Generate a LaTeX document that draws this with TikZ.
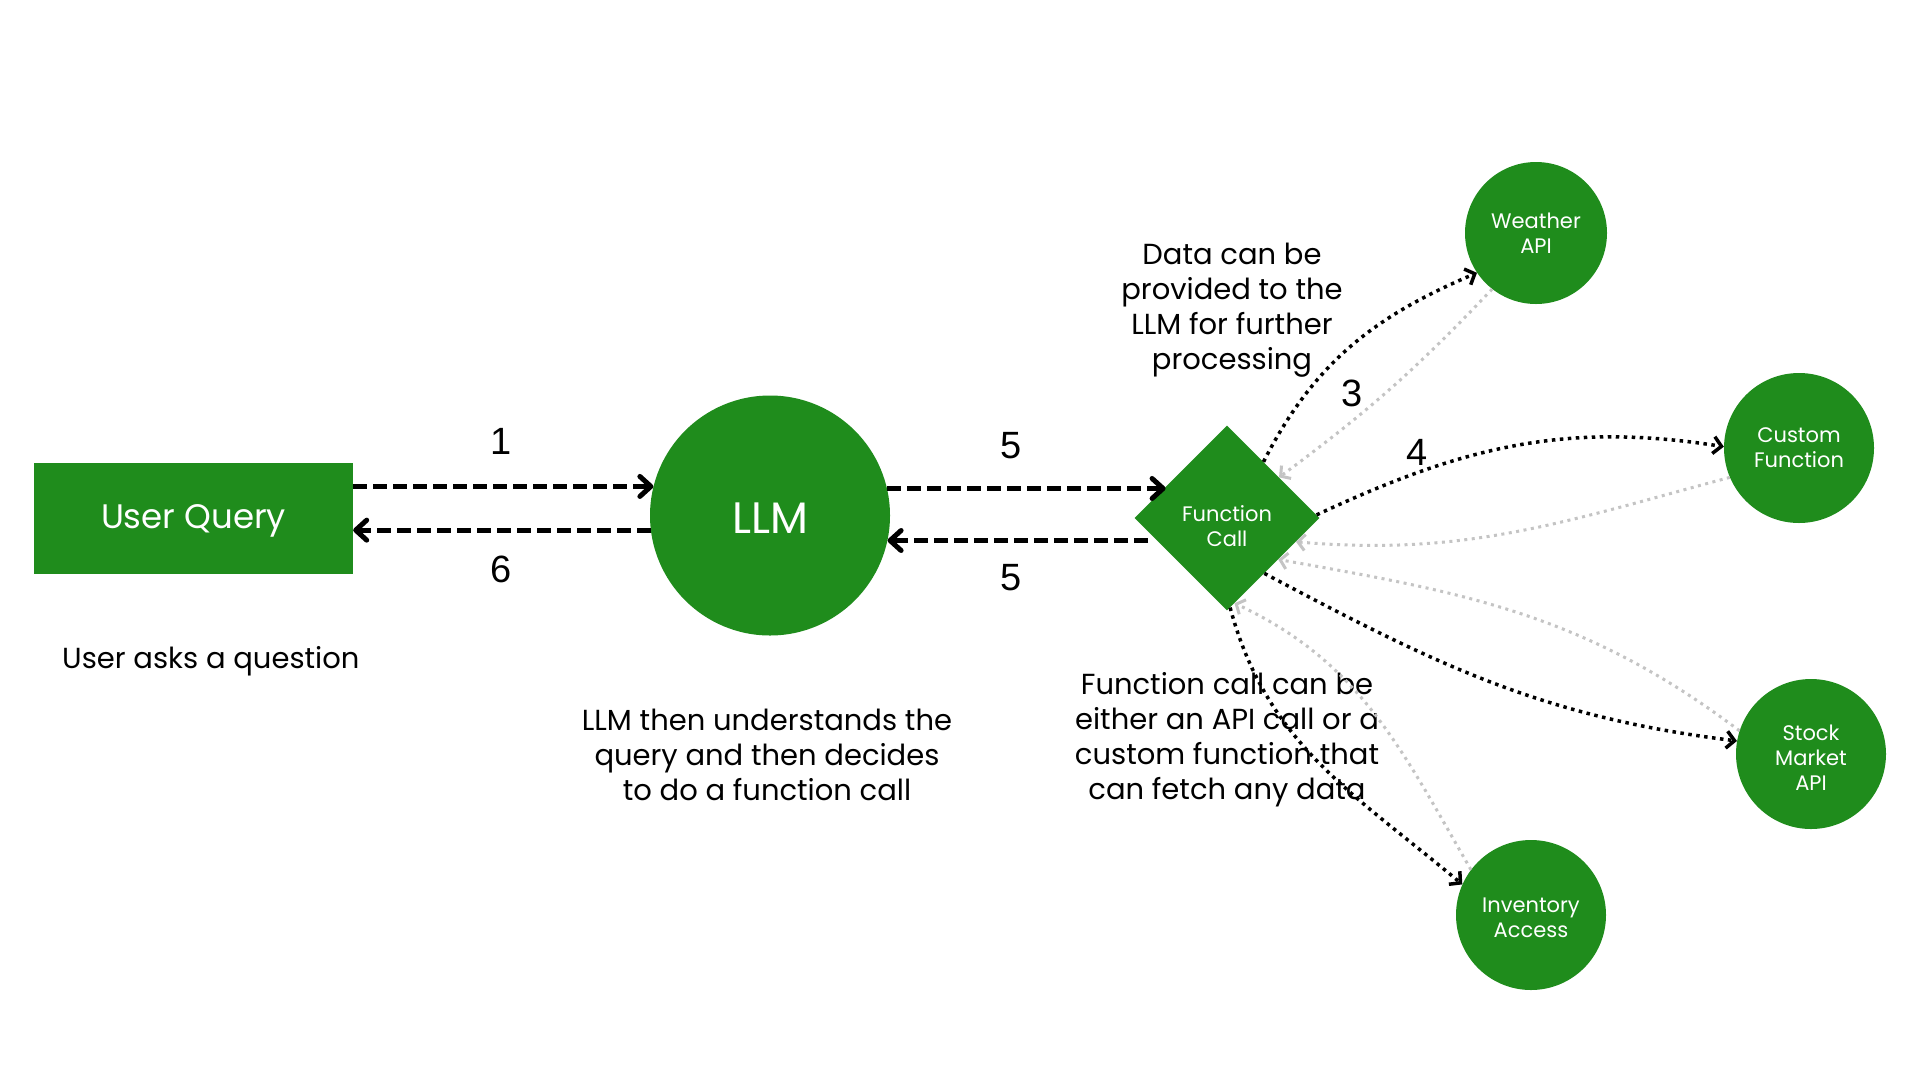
\documentclass[tikz,border=0pt]{standalone}
\usepackage{fontspec}
\setmainfont{Poppins}
\newfontfamily\digitfont{Liberation Sans}
\usetikzlibrary{arrows.meta,shapes.geometric}
\definecolor{fgreen}{RGB}{31,140,28}
\definecolor{lgrey}{RGB}{196,196,196}
\begin{document}
\begin{tikzpicture}[x=1pt,y=-1pt,
  every node/.style={inner sep=0pt},
  gcirc/.style={circle, fill=fgreen, text=white, minimum size=#1, align=center, font=\fontsize{21}{25}\selectfont},
  bigdash/.style={line width=5pt, dash pattern=on 14pt off 6pt, -{Straight Barb[length=11pt,width=20pt,line cap=round,line join=round]}},
  blkdot/.style={line width=3.5pt, dash pattern=on 3.5pt off 4.5pt, -{Straight Barb[length=8pt,width=17pt]}},
  grydot/.style={lgrey, line width=3pt, dash pattern=on 3pt off 4.5pt, -{Straight Barb[length=7pt,width=16pt]}},
  note/.style={align=center, font=\fontsize{29}{35}\selectfont},
  num/.style={font=\digitfont\fontsize{38}{40}\selectfont}
]
\useasboundingbox (0,0) rectangle (1920,1080);
\fill[white] (0,0) rectangle (1920,1080);

\node[fill=fgreen, minimum width=319pt, minimum height=111pt] (uq) at (193.5,518.5) {};
\node[text=white, font=\fontsize{34}{40}\selectfont] (uqt) at (193.5,521) {User Query};
\node[circle, fill=fgreen, minimum size=240pt] (llm) at (770,515.5) {};
\node[text=white, font=\fontsize{44}{50}\selectfont] (llmt) at (770,518) {LLM};
\node[diamond, fill=fgreen, minimum width=185pt, minimum height=185pt, aspect=1] (fc) at (1227,518) {};
\node[text=white, align=center, font=\fontsize{21}{25}\selectfont] (fct) at (1227,526) {Function\\Call};

\node[gcirc=142pt] (w) at (1536,233) {Weather\\API};
\node[gcirc=150pt] (cf) at (1799,448) {Custom\\Function};
\node[gcirc=150pt] (sm) at (1811,754) {};
\node[text=white, align=center, font=\fontsize{21}{25}\selectfont] (smt) at (1811,758) {Stock\\Market\\API};
\node[gcirc=150pt] (ia) at (1531,915) {};
\node[text=white, align=center, font=\fontsize{21}{25}\selectfont] (iat) at (1531,918) {Inventory\\Access};

\node[num] (n1) at (501,441) {1};
\node[num] (n6) at (501,569) {6};
\node[num] (n5a) at (1011,446) {5};
\node[num] (n5b) at (1011,578) {5};
\node[num] (n3) at (1352,393) {3};
\node[num] (n4) at (1417,452) {4};

\node[note, anchor=west] (t1) at (62,661) {User asks a question};
\node[note] (t2) at (767,755) {LLM then understands the\\query and then decides\\to do a function call};
\node[note] (t3) at (1232,310) {Data can be\\provided to the\\LLM for further\\processing};
\node[note] (t4) at (1227,740) {Function call can be\\either an API call or a\\custom function that\\can fetch any data};

\draw[bigdash] (llm.166 -| uq.east) -- (llm.166);
\draw[bigdash] (llm.187) -- (llm.187 -| uq.east);
\draw[bigdash] (llm.13) -- (llm.13 -| fc.153);
\draw[bigdash] ([xshift=-8pt]llm.-12 -| fc.197) -- (llm.-12);

\draw[grydot] (w.232) to[bend left=5] (fc.38);
\draw[grydot] (cf.203) to[out=195,in=-5] (fc.-19);
\draw[grydot] (sm.162) to[out=143,in=-10] (fc.-39);
\draw[grydot] (ia.143) to[out=120,in=-25] (fc.-85);

\draw[blkdot] (fc.57) to[out=63,in=203] (w.214);
\draw[blkdot] (fc.2) to[out=25,in=171] (cf.179);
\draw[blkdot] (fc.-56) to[out=-28,in=173] (sm.170);
\draw[blkdot] (fc.-88) to[out=-75,in=140] (ia.156);
\end{tikzpicture}
\end{document}
